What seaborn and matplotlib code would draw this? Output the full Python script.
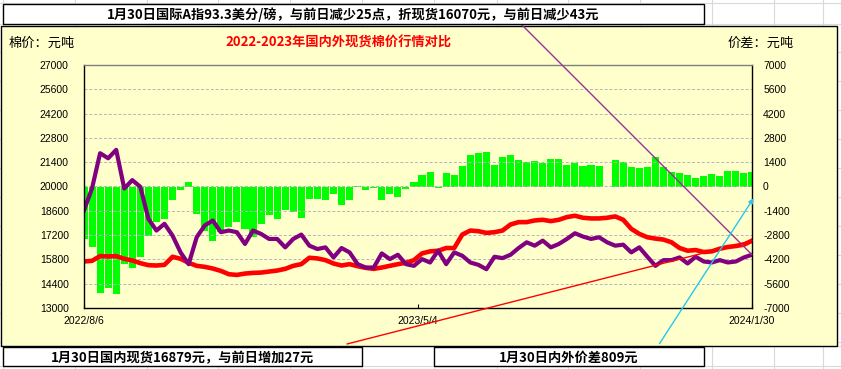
import numpy as np
import pandas as pd
import matplotlib
matplotlib.use("Agg")
import matplotlib.pyplot as plt
import seaborn as sns
from matplotlib.patches import Rectangle, FancyArrowPatch
from matplotlib.lines import Line2D

# ---------------- data ----------------
x_labels = ["2022/8/6", "2023/5/4", "2024/1/30"]

intl_price = [18625, 19900, 21918, 21627, 22111, 19884, 20368, 19981, 18140, 17463,
              17850, 17172, 16203, 15526, 17075, 17753, 18044, 17366, 17463, 17366,
              16688, 17463, 17269, 16978, 16978, 16494, 16978, 17230, 16591, 16397,
              16494, 15913, 16455, 16203, 15526, 15332, 15332, 16145, 15816, 16068,
              15526, 15429,
              15816, 15622, 16300, 15526, 16203, 16010, 15622, 15487, 15235, 15952,
              15874, 16068, 16455, 16785, 16591, 16881, 16494, 16688, 16978, 17308,
              17114, 16978, 17075, 16785, 16591, 16649, 16203, 16494, 15952, 15429,
              15758, 15758, 15913, 15564, 15952, 15680, 15622, 15758, 15622, 15680,
              15913, 16070]

domestic_price = [15681, 15719, 15990, 15971, 15990, 15835, 15739, 15584, 15467, 15448,
                  15487, 15952, 15835, 15603, 15429, 15371, 15274, 15138, 14945, 14906,
                  14983, 15022, 15041, 15100, 15158, 15255, 15429, 15526, 15894, 15855,
                  15758, 15564, 15448, 15526, 15409, 15313, 15255, 15332, 15429, 15526,
                  15603, 15758,
                  16145, 16262, 16300, 16455, 16455, 17230, 17463, 17424, 17327, 17366,
                  17463, 17811, 17947, 17947, 18044, 18082, 18005, 18082, 18237, 18315,
                  18198, 18160, 18160, 18198, 18276, 18082, 17559, 17269, 17075, 16998,
                  16940, 16785, 16455, 16300, 16339, 16223, 16262, 16416, 16513, 16571,
                  16649, 16879]

spread = [-3000, -3500, -6120, -5830, -6220, -4475, -4670, -4090, -2830, -2050,
          -1860, -790, -210, 270, -1570, -2540, -3120, -2630, -2340, -2050,
          -2440, -2920, -2150, -1670, -1860, -1375, -1470, -1800, -700, -700,
          -790, -445, -1085, -790, 20, -210, -60, -790, -445, -600,
          -120, 270,
          660, 850, -60, 755, 660, 1180, 1820, 1920, 2015, 1240,
          1725, 1820, 1530, 1435, 1490, 1335, 1570, 1570, 1240, 1335,
          1180, 1240, 1180, np.nan, 1530, 1435, 1105, 1045, 1140, 1725,
          1105, 850, 755, 660, 465, 600, 715, 600, 910, 910,
          795, 809]

left_ticks = list(range(13000, 27001, 1400))
right_ticks = list(range(-7000, 7001, 1400))

N = len(intl_price)
idx = np.arange(N)
df = pd.DataFrame({"i": idx, "intl": intl_price, "dom": domestic_price, "spread": spread})

# ---------------- figure ----------------
W, H = 841, 369
fig = plt.figure(figsize=(W / 100, H / 100), dpi=100)
fig.patch.set_facecolor("white")
plt.rcParams["font.family"] = ["Noto Sans CJK SC", "DejaVu Sans"]


def fx(px):
    return px / W


def fy(py):
    return 1 - py / H


# spreadsheet cell grid (background)
for xv in [3, 75, 147, 218, 290, 362, 434, 497, 568, 640, 712, 774, 823]:
    fig.add_artist(Line2D([fx(xv), fx(xv)], [0, 1], color="#D9D9D9", lw=0.8,
                          transform=fig.transFigure, zorder=-3))
for yv in [3, 24, 346, 366] + list(range(52, 346, 29)):
    fig.add_artist(Line2D([0, 1], [fy(yv), fy(yv)], color="#D9D9D9", lw=0.8,
                          transform=fig.transFigure, zorder=-3))

# chart area
fig.add_artist(Rectangle((fx(0.5), fy(346)), fx(837) - fx(0.5), fy(26) - fy(346),
                         facecolor="#FFFFCC", edgecolor="black", lw=1,
                         transform=fig.transFigure, zorder=-1))

ax = fig.add_axes([fx(84), fy(308), fx(752) - fx(84), fy(65) - fy(308)])
ax2 = ax.twinx()

sns.barplot(data=df, x="i", y="spread", ax=ax2, native_scale=True, color="#00FF00",
            saturation=1, width=0.88, linewidth=0, errorbar=None)
sns.lineplot(data=df, x="i", y="dom", ax=ax, color="#FF0000", lw=3.3)
sns.lineplot(data=df, x="i", y="intl", ax=ax, color="#800080", lw=3.0)

ax.set_zorder(ax2.get_zorder() + 1)
ax.patch.set_visible(False)
ax2.patch.set_visible(False)

ax.set_ylim(13000, 27000)
ax2.set_ylim(-7000, 7000)
ax.set_xlim(0, N - 1)

ax.set_yticks(left_ticks)
ax.set_yticklabels([str(v) for v in left_ticks], fontfamily="Liberation Sans", fontsize=7.5)
ax2.set_yticks(right_ticks)
ax2.set_yticklabels([str(v) for v in right_ticks], fontfamily="Liberation Sans", fontsize=7.5)
ax.set_xticks([0, (N - 1) / 2, N - 1])
ax.set_xticklabels(x_labels, fontfamily="Liberation Sans", fontsize=7.5)

ax.tick_params(axis="y", length=0, pad=11)
ax2.tick_params(axis="y", length=0, pad=8)
ax.tick_params(axis="x", direction="in", length=3, pad=6)

ax.set_xlabel("")
ax.set_ylabel("")
ax2.set_xlabel("")
ax2.set_ylabel("")

ax.grid(axis="y", color="#B4B4C0", ls=(0, (3, 2)), lw=0.7)
ax.grid(axis="x", visible=False)

for s in ["left", "bottom", "right"]:
    ax.spines[s].set_color("black")
    ax.spines[s].set_linewidth(1)
ax.spines["top"].set_color("#808080")
ax.spines["top"].set_linewidth(1)
for s in ax2.spines.values():
    s.set_visible(False)

# titles / units
fig.text(fx(42), fy(43), "棉价：元吨", ha="center", va="center", fontsize=9.5)
fig.text(fx(761), fy(43), "价差：元吨", ha="center", va="center", fontsize=9.5)
fig.text(fx(338.5), fy(43), "2022-2023年国内外现货棉价行情对比", ha="center", va="center",
         fontsize=9.5, color="#FF0000", weight="bold")

# callout boxes
boxes = [
    ((2.5, 4, 704, 23.5), (353, 15), "1月30日国际A指93.3美分/磅，与前日减少25点，折现货16070元，与前日减少43元"),
    ((2.5, 347, 362, 365.5), (183, 358), "1月30日国内现货16879元，与前日增加27元"),
    ((434, 347, 704, 365.5), (569, 358), "1月30日内外价差809元"),
]
for (x0, y0, x1, y1), (tx, ty), txt in boxes:
    fig.add_artist(Rectangle((fx(x0), fy(y1)), fx(x1) - fx(x0), fy(y0) - fy(y1),
                             facecolor="white", edgecolor="black", lw=1,
                             transform=fig.transFigure, zorder=3))
    fig.text(fx(tx), fy(ty), txt, ha="center", va="center", fontsize=9.5,
             weight="bold", zorder=4)

# callout lines
ax.annotate("", xy=(N - 1, intl_price[-1]), xycoords="data",
            xytext=(fx(521), fy(24)), textcoords="figure fraction",
            arrowprops=dict(arrowstyle="-", color="#993399", lw=1, shrinkA=0, shrinkB=0),
            annotation_clip=False)
ax.annotate("", xy=(N - 1, domestic_price[-1]), xycoords="data",
            xytext=(fx(347), fy(344)), textcoords="figure fraction",
            arrowprops=dict(arrowstyle="-", color="#FF0000", lw=1, shrinkA=0, shrinkB=0),
            annotation_clip=False)
fig.add_artist(FancyArrowPatch((fx(658), fy(346)), (fx(755), fy(196)),
                               arrowstyle="-|>", mutation_scale=7, color="#22C8F0",
                               lw=1, transform=fig.transFigure, zorder=4))

fig.savefig("out.png", dpi=100)
